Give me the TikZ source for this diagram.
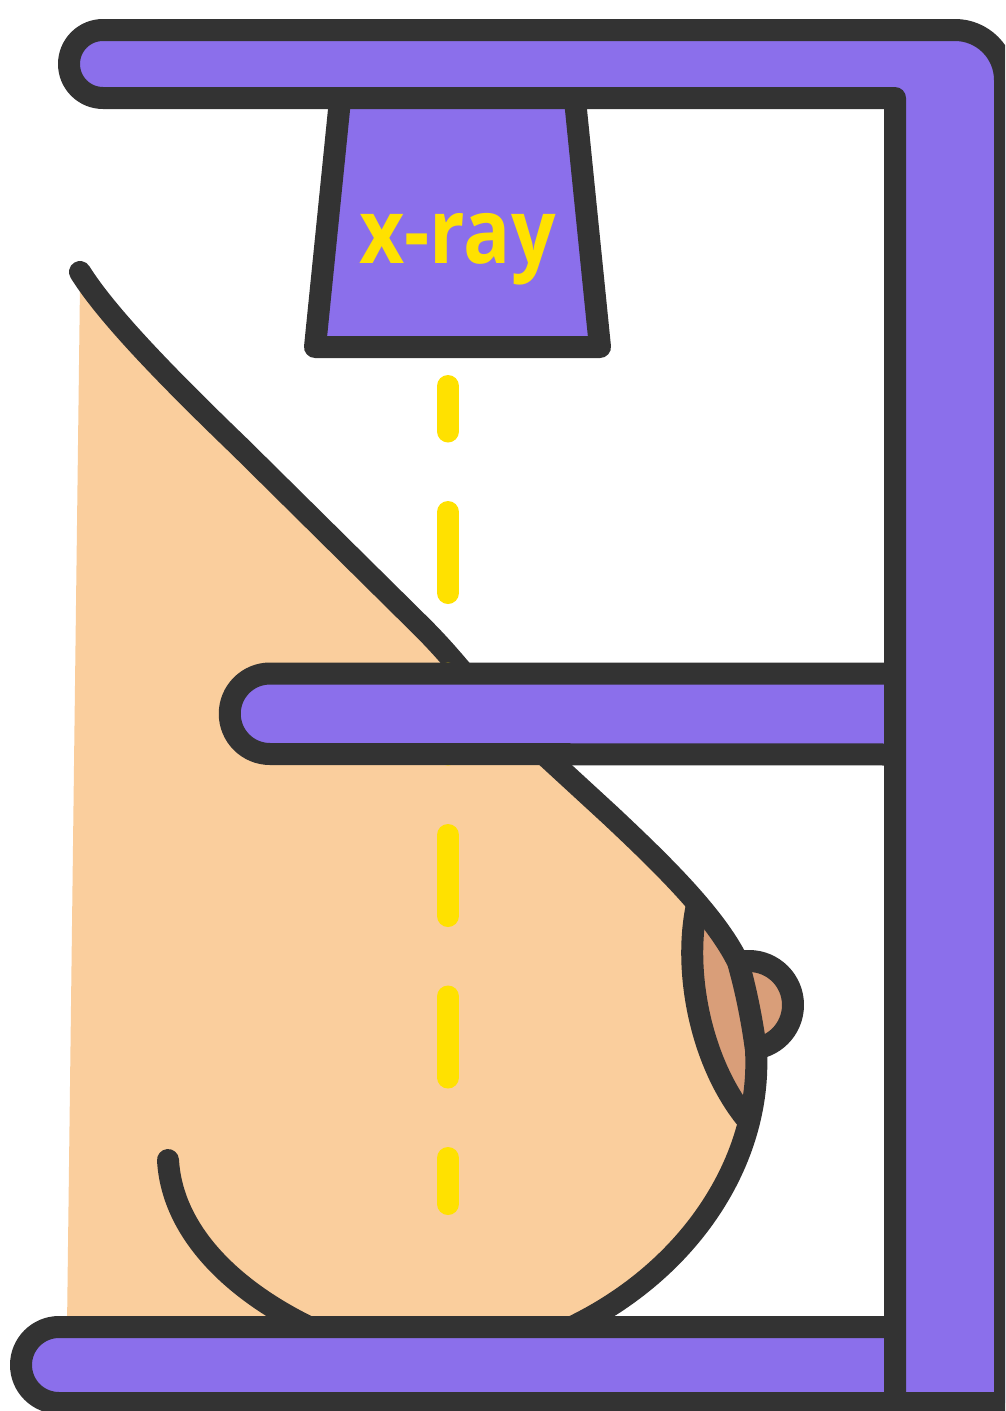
\documentclass[tikz,border=0pt]{standalone}
\usepackage{fontspec}
\newfontfamily\tubefont{Open Sans}
\definecolor{unitpurple}{HTML}{8B6FEB}
\definecolor{inkdark}{HTML}{333333}
\definecolor{skin}{HTML}{FACE9D}
\definecolor{areolatan}{HTML}{D99E79}
\definecolor{beamyellow}{HTML}{FFE100}
% outline of the breast tissue (filled region)
\def\breastshape{(80,272) .. controls (105,312) and (160,370) .. (240,447) -- (422,627)
  .. controls (435,640) and (446,652) .. (462,671) -- (548,758) -- (610,815)
  .. controls (660,862) and (715,915) .. (738,962)
  .. controls (746,990) and (752,1020) .. (756,1050)
  .. controls (762,1160) and (690,1270) .. (572,1327) -- (67,1327) -- (80,285) -- cycle}
\begin{document}
\begin{tikzpicture}[x=1pt,y=-1pt,line width=22pt,line join=round,line cap=round,
  part/.style={draw=inkdark,fill=unitpurple},
  contour/.style={draw=inkdark},
  beam/.style={draw=beamyellow,dash pattern=on 81pt off 80.5pt,dash phase=35.5pt}]
\useasboundingbox (0,0) rectangle (1005,1411);
\clip (0,0) rectangle (1005,1411);
\fill[white] (0,0) rectangle (1005,1411);

% nipple, partly hidden behind the tissue
\draw[contour,fill=areolatan] (749,1005) circle[radius=44];

% tissue
\fill[skin] \breastshape;

% areola
\begin{scope}
  \clip \breastshape;
  \fill[areolatan] (697,905) .. controls (683,970) and (700,1060) .. (745,1117)
    -- (820,1117) -- (820,880) -- (697,880) -- cycle;
\end{scope}

% contour lines
\draw[contour] (80,272) .. controls (105,312) and (160,370) .. (240,447) -- (422,627)
  .. controls (435,640) and (446,652) .. (462,671) -- (500,710);
\draw[contour] (520,730) -- (548,758) -- (610,815)
  .. controls (660,862) and (715,915) .. (738,962)
  .. controls (746,990) and (752,1020) .. (756,1050)
  .. controls (762,1160) and (690,1270) .. (572,1327);
\draw[contour] (697,905) .. controls (683,970) and (700,1060) .. (745,1117);
\draw[contour] (168,1160) .. controls (172,1230) and (230,1290) .. (315,1330);

% x-ray beam
\draw[beam] (448,386) -- (448,1204);

% x-ray tube
\draw[part] (341,90) -- (315,347) -- (600,347) -- (574,90) -- cycle;
\node[anchor=base,text=beamyellow,inner sep=0pt,
  font=\tubefont\bfseries\fontsize{90}{90}\selectfont] (tubelabel) at (457.5,263)
  {\scalebox{0.87}[1]{x-ray}};

% lower support plate
\draw[part] (895,1327) -- (59,1327) arc[start angle=270,end angle=90,radius=38] -- (895,1403);

% compression paddle
\draw[part] (895,673.5) -- (270,673.5) arc[start angle=270,end angle=90,radius=40.25] -- (895,754.5);

% column and top arm
\draw[part] (895,1403) -- (895,98) -- (103,98) arc[start angle=90,end angle=270,radius=34]
  -- (955,30) arc[start angle=270,end angle=360,radius=50] -- (1005,1403) -- cycle;
\end{tikzpicture}
\end{document}
